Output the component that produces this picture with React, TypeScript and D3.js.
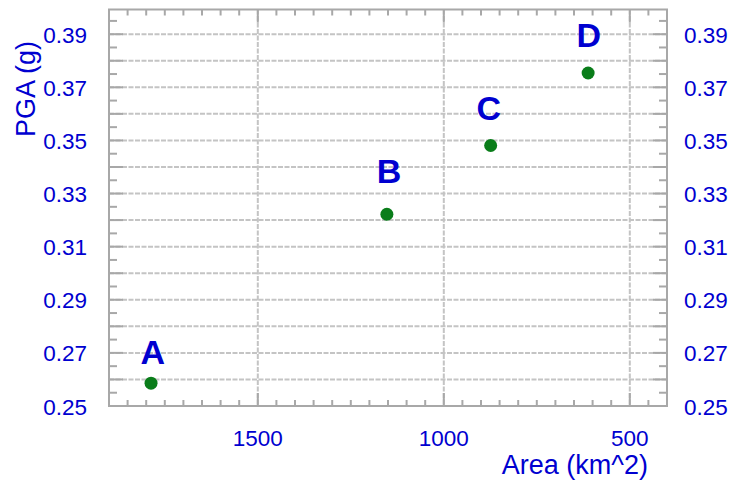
import React from "react";
import * as d3 from "d3";

const pointNames = ["A", "B", "C", "D"];
const areaValues = [1787, 1153, 874, 612];
const pgaValues = [0.2586, 0.3222, 0.3481, 0.3754];
const labelAreas = [1782, 1147, 879, 610];
const labelPgas = [0.2658, 0.334, 0.3578, 0.3853];

const xTickValues = [1500, 1000, 500];
const xTickLabels = ["1500", "1000", "500"];
const yTickValues = [0.25, 0.27, 0.29, 0.31, 0.33, 0.35, 0.37, 0.39];
const yTickLabels = ["0.25", "0.27", "0.29", "0.31", "0.33", "0.35", "0.37", "0.39"];

const W = 733;
const H = 484;
const M = { left: 109, right: 667, top: 9.5, bottom: 406 };
const BLUE = "#0000d0";
const FRAME = "#a8a8a8";
const GRID = "#c4c4c4";
const FONT = "'Liberation Sans', Arial, Helvetica, sans-serif";

export default function App() {
  const x = d3.scaleLinear().domain([1900, 400]).range([M.left, M.right]);
  const y = d3.scaleLinear().domain([0.25, 0.3993]).range([M.bottom, M.top]);

  const yGrid = d3.range(26, 40).map((v) => v / 100);
  const yMinor = d3.range(0, 30).map((i) => 0.255 + i * 0.01).filter((v) => v < 0.399);
  const xMinor = d3.range(450, 1900, 50).filter((v) => v % 500 !== 0);

  return (
    <svg
      width={W}
      height={H}
      style={{ position: "absolute", left: 0, top: 0, display: "block", background: "#fff" }}
      fontFamily={FONT}
    >
      {yGrid.map((v) => (
        <line key={"hg" + v} x1={M.left} x2={M.right} y1={y(v)} y2={y(v)} stroke={GRID} strokeWidth={2} strokeDasharray="5,1.5" />
      ))}
      {xTickValues.map((v) => (
        <line key={"vg" + v} x1={x(v)} x2={x(v)} y1={M.top} y2={M.bottom} stroke={GRID} strokeWidth={2} strokeDasharray="5,1.5" />
      ))}
      {yGrid.map((v) => (
        <g key={"ymt" + v}>
          <line x1={M.left} x2={M.left + 14} y1={y(v)} y2={y(v)} stroke={FRAME} strokeWidth={2} />
          <line x1={M.right} x2={M.right - 14} y1={y(v)} y2={y(v)} stroke={FRAME} strokeWidth={2} />
        </g>
      ))}
      {yMinor.map((v) => (
        <g key={"ymn" + v}>
          <line x1={M.left} x2={M.left + 8} y1={y(v)} y2={y(v)} stroke={FRAME} strokeWidth={2} />
          <line x1={M.right} x2={M.right - 8} y1={y(v)} y2={y(v)} stroke={FRAME} strokeWidth={2} />
        </g>
      ))}
      {xMinor.map((v) => (
        <g key={"xmn" + v}>
          <line x1={x(v)} x2={x(v)} y1={M.bottom} y2={M.bottom - 6} stroke={FRAME} strokeWidth={2} />
          <line x1={x(v)} x2={x(v)} y1={M.top} y2={M.top + 6} stroke={FRAME} strokeWidth={2} />
        </g>
      ))}
      {xTickValues.map((v) => (
        <g key={"xmt" + v}>
          <line x1={x(v)} x2={x(v)} y1={M.bottom} y2={M.bottom - 13} stroke={FRAME} strokeWidth={2} />
          <line x1={x(v)} x2={x(v)} y1={M.top} y2={M.top + 13} stroke={FRAME} strokeWidth={2} />
        </g>
      ))}
      <rect x={M.left} y={M.top} width={M.right - M.left} height={M.bottom - M.top} fill="none" stroke={FRAME} strokeWidth={2} />

      {yTickValues.map((v, i) => (
        <g key={"yl" + v}>
          <text x={87} y={y(v)} dy="0.38em" textAnchor="end" fontSize={22.5} fill={BLUE}>
            {yTickLabels[i]}
          </text>
          <text x={684} y={y(v)} dy="0.38em" textAnchor="start" fontSize={22.5} fill={BLUE}>
            {yTickLabels[i]}
          </text>
        </g>
      ))}
      {xTickValues.map((v, i) => (
        <text key={"xl" + v} x={x(v)} y={446} textAnchor="middle" fontSize={22.5} fill={BLUE}>
          {xTickLabels[i]}
        </text>
      ))}

      <text x={648} y={474} textAnchor="end" fontSize={27} fill={BLUE}>
        Area (km^2)
      </text>
      <text transform="translate(35,89) rotate(-90)" textAnchor="middle" fontSize={27} fill={BLUE}>
        PGA (g)
      </text>

      {areaValues.map((a, i) => (
        <circle key={"pt" + i} cx={x(a)} cy={y(pgaValues[i])} r={6.5} fill="#0a7d1a" />
      ))}
      {pointNames.map((n, i) => (
        <text key={"lb" + n} x={x(labelAreas[i])} y={y(labelPgas[i])} textAnchor="middle" fontSize={34} fontWeight="bold" fill={BLUE}>
          {n}
        </text>
      ))}
    </svg>
  );
}
